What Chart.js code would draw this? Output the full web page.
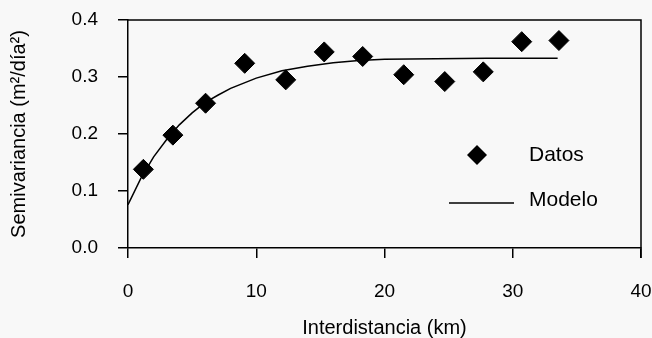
<!DOCTYPE html>
<html>
<head>
<meta charset="utf-8">
<script src="https://cdn.jsdelivr.net/npm/chart.js@4.4.1/dist/chart.umd.min.js"></script>
<style>
    html, body { margin: 0; padding: 0; background: #f8f8f8; }
    #wrap { width: 652px; height: 338px; position: relative; }
</style>
</head>
<body>
<div id="wrap"><canvas id="semivariograma"></canvas></div>
<script>
// datos
const distancias = [1.2, 3.5, 6.05, 9.1, 12.3, 15.3, 18.3, 21.5, 24.7, 27.7, 30.7, 33.6];
const semivarianzas = [0.138, 0.198, 0.254, 0.324, 0.295, 0.344, 0.336, 0.304, 0.292, 0.309, 0.362, 0.364];

// curva del modelo (valores leídos sobre la línea)
const modeloX = [0, 1, 2, 3, 4, 5, 6, 7, 8, 10, 12, 14, 16, 18, 20, 24, 28, 33.5];
const modeloY = [0.076, 0.122, 0.160, 0.190, 0.216, 0.237, 0.255, 0.268, 0.280, 0.298, 0.311, 0.319, 0.325, 0.329, 0.331, 0.332, 0.333, 0.333];

const xTicks = [0, 10, 20, 30, 40];
const yTicks = [0.0, 0.1, 0.2, 0.3, 0.4];

const ink = '#000';
const font = "'Liberation Sans', Arial, sans-serif";

// marco superior y derecho + leyenda dentro del área
const framePlugin = {
    id: 'frame',
    afterDraw(chart) {
        const { ctx, chartArea } = chart;
        const { left, right, top, bottom } = chartArea;
        ctx.save();
        ctx.strokeStyle = ink;
        ctx.lineWidth = 1.5;
        ctx.beginPath();
        ctx.moveTo(left, top);
        ctx.lineTo(right, top);
        ctx.lineTo(right, bottom + 10);
        ctx.stroke();

        // leyenda
        ctx.fillStyle = ink;
        ctx.font = '21px ' + font;
        ctx.textBaseline = 'middle';
        ctx.textAlign = 'left';
        const dx = right - 164, dy = top + 135;
        ctx.beginPath();
        ctx.moveTo(dx, dy - 10);
        ctx.lineTo(dx + 10, dy);
        ctx.lineTo(dx, dy + 10);
        ctx.lineTo(dx - 10, dy);
        ctx.closePath();
        ctx.fill();
        ctx.fillText('Datos', right - 112, dy);

        const my = top + 183;
        ctx.beginPath();
        ctx.moveTo(right - 192, my);
        ctx.lineTo(right - 127, my);
        ctx.stroke();
        ctx.fillText('Modelo', right - 112, my - 3);
        ctx.restore();
    }
};

// quitar el relleno automático de las escalas para fijar el área
function sinRelleno(scale) {
    scale.paddingLeft = 0;
    scale.paddingRight = 0;
    scale.paddingTop = 0;
    scale.paddingBottom = 0;
}

const ctx = document.getElementById('semivariograma').getContext('2d');

new Chart(ctx, {
    type: 'scatter',
    data: {
        datasets: [
            {
                label: 'Datos',
                data: distancias.map((x, i) => ({ x: x, y: semivarianzas[i] })),
                pointStyle: 'rectRot',
                pointRadius: 10,
                pointHoverRadius: 10,
                backgroundColor: ink,
                borderColor: ink,
                borderWidth: 1,
                showLine: false
            },
            {
                label: 'Modelo',
                data: modeloX.map((x, i) => ({ x: x, y: modeloY[i] })),
                showLine: true,
                pointRadius: 0,
                borderColor: ink,
                borderWidth: 1.5,
                tension: 0
            }
        ]
    },
    options: {
        responsive: true,
        maintainAspectRatio: false,
        animation: false,
        layout: { padding: { top: 20, right: 8, left: 0, bottom: 0 } },
        plugins: {
            legend: { display: false },
            tooltip: { enabled: false }
        },
        scales: {
            x: {
                type: 'linear',
                min: 0,
                max: 40,
                afterBuildTicks: (scale) => { scale.ticks = xTicks.map(v => ({ value: v })); },
                afterFit: (scale) => { scale.height = 90; sinRelleno(scale); },
                grid: { drawOnChartArea: false, drawTicks: true, tickLength: 10, color: ink, lineWidth: 1.5 },
                border: { display: true, color: ink, width: 1.5 },
                ticks: {
                    padding: 22,
                    color: ink,
                    font: { family: font, size: 19 },
                    maxRotation: 0
                },
                title: {
                    display: true,
                    text: 'Interdistancia (km)',
                    color: ink,
                    font: { family: font, size: 20, lineHeight: 1 },
                    padding: { top: 0, bottom: 0 }
                }
            },
            y: {
                type: 'linear',
                min: 0,
                max: 0.4,
                afterBuildTicks: (scale) => { scale.ticks = yTicks.map(v => ({ value: v })); },
                afterFit: (scale) => { scale.width = 128; sinRelleno(scale); },
                grid: { drawOnChartArea: false, drawTicks: true, tickLength: 10, color: ink, lineWidth: 1.5 },
                border: { display: true, color: ink, width: 1.5 },
                ticks: {
                    padding: 20,
                    color: ink,
                    font: { family: font, size: 19 },
                    callback: (v) => v.toFixed(1)
                },
                title: {
                    display: true,
                    text: 'Semivariancia (m²/día²)',
                    color: ink,
                    font: { family: font, size: 20, lineHeight: 1 },
                    padding: { top: 9, bottom: 0 }
                }
            }
        }
    },
    plugins: [framePlugin]
});
</script>
</body>
</html>
